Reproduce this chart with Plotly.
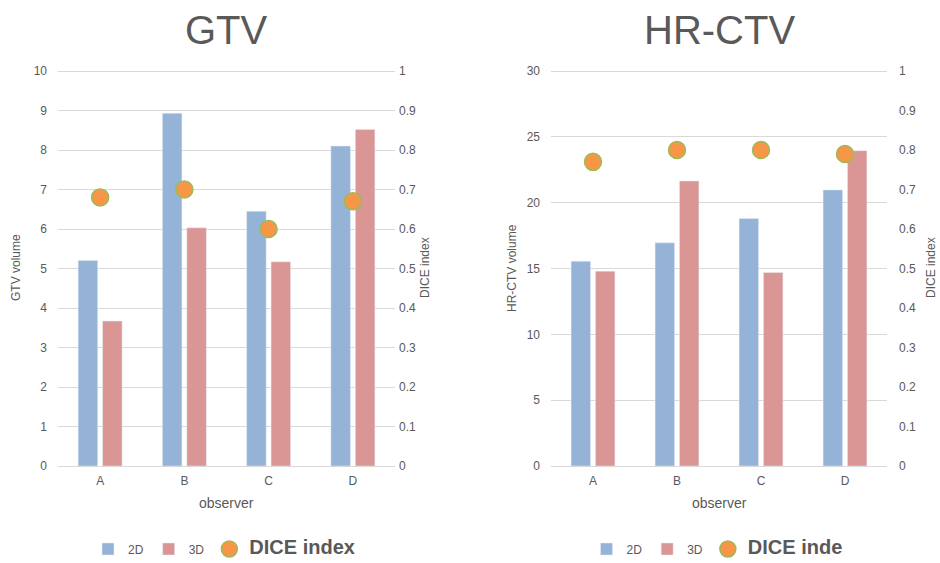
import plotly.graph_objects as go

observers = ["A", "B", "C", "D"]

gtv_2d = [5.2, 8.93, 6.45, 8.1]
gtv_3d = [3.67, 6.03, 5.17, 8.52]
gtv_dice = [0.68, 0.70, 0.60, 0.67]

ctv_2d = [15.55, 16.95, 18.8, 20.97]
ctv_3d = [14.8, 21.65, 14.7, 23.95]
ctv_dice = [0.77, 0.80, 0.80, 0.79]

BLUE = "#95B3D7"
RED = "#D99694"
ORANGE = "#F79646"
OUTLINE = "#9BBB59"
GRAY = "#595959"
GRID = "#D9D9D9"
FONT = "Liberation Sans, Arial, sans-serif"

W, H = 940, 563

def px(x):
    return x / W

def py(y):
    return 1 - y / H

fig = go.Figure()

dice_name_left = '<span style="font-size:20px"><b>DICE index</b></span>'
dice_name_right = '<span style="font-size:20px"><b>DICE inde</b></span>'

# Left panel (GTV)
fig.add_trace(go.Bar(x=observers, y=gtv_2d, name="2D", marker_color=BLUE,
                     xaxis="x", yaxis="y", legend="legend"))
fig.add_trace(go.Bar(x=observers, y=gtv_3d, name="3D", marker_color=RED,
                     xaxis="x", yaxis="y", legend="legend"))
fig.add_trace(go.Scatter(x=observers, y=gtv_dice, name=dice_name_left, mode="markers",
                         marker=dict(size=17, color=ORANGE, line=dict(color=OUTLINE, width=1.5)),
                         xaxis="x", yaxis="y2", legend="legend"))

# Right panel (HR-CTV)
fig.add_trace(go.Bar(x=observers, y=ctv_2d, name="2D", marker_color=BLUE,
                     xaxis="x2", yaxis="y3", legend="legend2"))
fig.add_trace(go.Bar(x=observers, y=ctv_3d, name="3D", marker_color=RED,
                     xaxis="x2", yaxis="y3", legend="legend2"))
fig.add_trace(go.Scatter(x=observers, y=ctv_dice, name=dice_name_right, mode="markers",
                         marker=dict(size=17, color=ORANGE, line=dict(color=OUTLINE, width=1.5)),
                         xaxis="x2", yaxis="y4", legend="legend2"))

tickfont = dict(family=FONT, size=12, color=GRAY)
# domain extended by 2 px above the top tick so the top gridline is visible
ydom = [py(466), py(69)]
EXT = 397 / 395

common_x = dict(showgrid=False, showline=True, linecolor=GRID, linewidth=1,
                ticks="", tickfont=tickfont, fixedrange=True, ticklabelstandoff=4)
fig.update_layout(
    width=W, height=H, autosize=False,
    margin=dict(l=0, r=0, t=0, b=0, autoexpand=False),
    paper_bgcolor="white", plot_bgcolor="white",
    barmode="group", bargap=0.42, bargroupgap=0.2,
    font=dict(family=FONT, color=GRAY),
    xaxis=dict(domain=[px(58), px(395)], anchor="y", **common_x),
    xaxis2=dict(domain=[px(551), px(887)], anchor="y3", **common_x),
    yaxis=dict(domain=ydom, anchor="x", range=[0, 10 * EXT], tick0=0, dtick=1, showgrid=True,
               gridcolor=GRID, zeroline=False, tickfont=tickfont, ticklabelstandoff=10),
    yaxis2=dict(overlaying="y", side="right", anchor="x", range=[0, 1 * EXT], tick0=0, dtick=0.1,
                showgrid=False, zeroline=False, tickfont=tickfont, ticklabelstandoff=3),
    yaxis3=dict(domain=ydom, anchor="x2", range=[0, 30 * EXT], tick0=0, dtick=5, showgrid=True,
                gridcolor=GRID, zeroline=False, tickfont=tickfont, ticklabelstandoff=10),
    yaxis4=dict(overlaying="y3", side="right", anchor="x2", range=[0, 1 * EXT], tick0=0, dtick=0.1,
                showgrid=False, zeroline=False, tickfont=tickfont, ticklabelstandoff=11),
    legend=dict(orientation="h", x=px(224), xanchor="center", y=py(549), yanchor="middle",
                font=dict(family=FONT, size=12, color=GRAY), itemwidth=30,
                bgcolor="rgba(0,0,0,0)"),
    legend2=dict(orientation="h", x=px(717), xanchor="center", y=py(549), yanchor="middle",
                 font=dict(family=FONT, size=12, color=GRAY), itemwidth=30,
                 bgcolor="rgba(0,0,0,0)"),
)

annots = [
    dict(text="GTV", x=px(226.5), y=py(30), font=dict(size=40)),
    dict(text="HR-CTV", x=px(719), y=py(30), font=dict(size=40)),
    dict(text="GTV volume", x=px(16), y=py(268), textangle=-90, font=dict(size=12)),
    dict(text="DICE index", x=px(425), y=py(268), textangle=-90, font=dict(size=12)),
    dict(text="HR-CTV volume", x=px(512), y=py(268), textangle=-90, font=dict(size=12)),
    dict(text="DICE index", x=px(931), y=py(268), textangle=-90, font=dict(size=12)),
    dict(text="observer", x=px(226.5), y=py(503), font=dict(size=14)),
    dict(text="observer", x=px(719), y=py(503), font=dict(size=14)),
]
for a in annots:
    f = dict(family=FONT, color=GRAY)
    f.update(a.pop("font"))
    fig.add_annotation(xref="paper", yref="paper", xanchor="center", yanchor="middle",
                       showarrow=False, font=f, **a)

fig.write_html("out.html", config={"displayModeBar": False, "staticPlot": True},
               post_script="document.body.style.margin='0px';document.body.style.overflow='hidden';")
